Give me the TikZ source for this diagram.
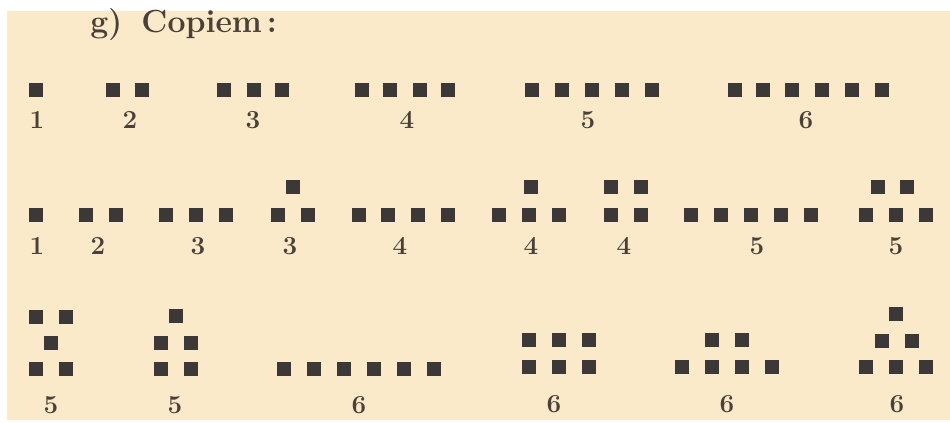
\documentclass[tikz,border=0pt]{standalone}
\usepackage{fontspec}
\definecolor{paper}{HTML}{FAEACA}
\definecolor{ink}{HTML}{3C3838}
\definecolor{txt}{HTML}{4A4038}
\tikzset{
  sq/.style={fill=ink, draw=none, minimum size=10.8pt, inner sep=0pt, outer sep=0pt},
  num/.style={text=txt, font=\fontsize{19.5}{22}\selectfont\bfseries, inner sep=0pt, anchor=center},
  ttl/.style={text=txt, font=\fontsize{24}{27}\selectfont\bfseries, inner sep=0pt, anchor=base west}
}
\begin{document}
\begin{tikzpicture}[x=0.75pt, y=-0.75pt]
\useasboundingbox (0,0) rectangle (950,422);
\fill[white] (0,0) rectangle (950,422);
\fill[paper] (7,11) rectangle (950,420);
\node[ttl] (title) at (90,32) {g)\hspace{0.6em}Copiem\hspace{0.15em}:};
% Row 1
\foreach \x [count=\i] in {36} \node[sq] (a1-\i) at (\x,90) {};
\foreach \x [count=\i] in {113,142} \node[sq] (a2-\i) at (\x,90) {};
\foreach \x [count=\i] in {224,254,282} \node[sq] (a3-\i) at (\x,90) {};
\foreach \x [count=\i] in {362,390,420,448} \node[sq] (a4-\i) at (\x,90) {};
\foreach \x [count=\i] in {532,562,592,622,652} \node[sq] (a5-\i) at (\x,90) {};
\foreach \x [count=\i] in {735,763,792,822,852,882} \node[sq] (a6-\i) at (\x,90) {};
\node[num] (la1) at (37,120) {1};
\node[num] (la2) at (130,120) {2};
\node[num] (la3) at (253,120) {3};
\node[num] (la4) at (407,120) {4};
\node[num] (la5) at (588,120) {5};
\node[num] (la6) at (806,120) {6};
% Row 2
\node[sq] (b1-1) at (36,215) {};
\foreach \x [count=\i] in {86,116} \node[sq] (b2-\i) at (\x,215) {};
\foreach \x [count=\i] in {166,196,226} \node[sq] (b3-\i) at (\x,215) {};
\node[sq] (b4-t) at (293,187) {};
\foreach \x [count=\i] in {278,308} \node[sq] (b4-\i) at (\x,215) {};
\foreach \x [count=\i] in {359,388,418,448} \node[sq] (b5-\i) at (\x,215) {};
\node[sq] (b6-t) at (531,187) {};
\foreach \x [count=\i] in {499,529,559} \node[sq] (b6-\i) at (\x,215) {};
\foreach \x [count=\i] in {611,641} \node[sq] (b7t-\i) at (\x,187) {};
\foreach \x [count=\i] in {611,641} \node[sq] (b7-\i) at (\x,215) {};
\foreach \x [count=\i] in {691,721,751,781,811} \node[sq] (b8-\i) at (\x,215) {};
\foreach \x [count=\i] in {878,907} \node[sq] (b9t-\i) at (\x,187) {};
\foreach \x [count=\i] in {866,896,926} \node[sq] (b9-\i) at (\x,215) {};
\node[num] (lb1) at (37,246) {1};
\node[num] (lb2) at (98,246) {2};
\node[num] (lb3) at (198,246) {3};
\node[num] (lb4) at (290,246) {3};
\node[num] (lb5) at (400,246) {4};
\node[num] (lb6) at (531,246) {4};
\node[num] (lb7) at (624,246) {4};
\node[num] (lb8) at (757,246) {5};
\node[num] (lb9) at (896,246) {5};
% Row 3
\foreach \x [count=\i] in {36,66} \node[sq] (c1t-\i) at (\x,317) {};
\node[sq] (c1-m) at (51,343) {};
\foreach \x [count=\i] in {36,66} \node[sq] (c1b-\i) at (\x,369) {};
\node[sq] (c2-t) at (176,316) {};
\foreach \x [count=\i] in {161,191} \node[sq] (c2m-\i) at (\x,343) {};
\foreach \x [count=\i] in {161,191} \node[sq] (c2b-\i) at (\x,369) {};
\foreach \x [count=\i] in {284,314,344,374,404,434} \node[sq] (c3-\i) at (\x,369) {};
\foreach \x [count=\i] in {529,559,589} \node[sq] (c4t-\i) at (\x,340) {};
\foreach \x [count=\i] in {529,559,589} \node[sq] (c4b-\i) at (\x,367) {};
\foreach \x [count=\i] in {712,742} \node[sq] (c5t-\i) at (\x,340) {};
\foreach \x [count=\i] in {682,712,742,772} \node[sq] (c5b-\i) at (\x,367) {};
\node[sq] (c6-t) at (896,314) {};
\foreach \x [count=\i] in {882,912} \node[sq] (c6m-\i) at (\x,341) {};
\foreach \x [count=\i] in {866,896,926} \node[sq] (c6b-\i) at (\x,367) {};
\node[num] (lc1) at (51,405) {5};
\node[num] (lc2) at (175,405) {5};
\node[num] (lc3) at (359,405) {6};
\node[num] (lc4) at (554,404) {6};
\node[num] (lc5) at (727,404) {6};
\node[num] (lc6) at (897,404) {6};
\end{tikzpicture}
\end{document}
